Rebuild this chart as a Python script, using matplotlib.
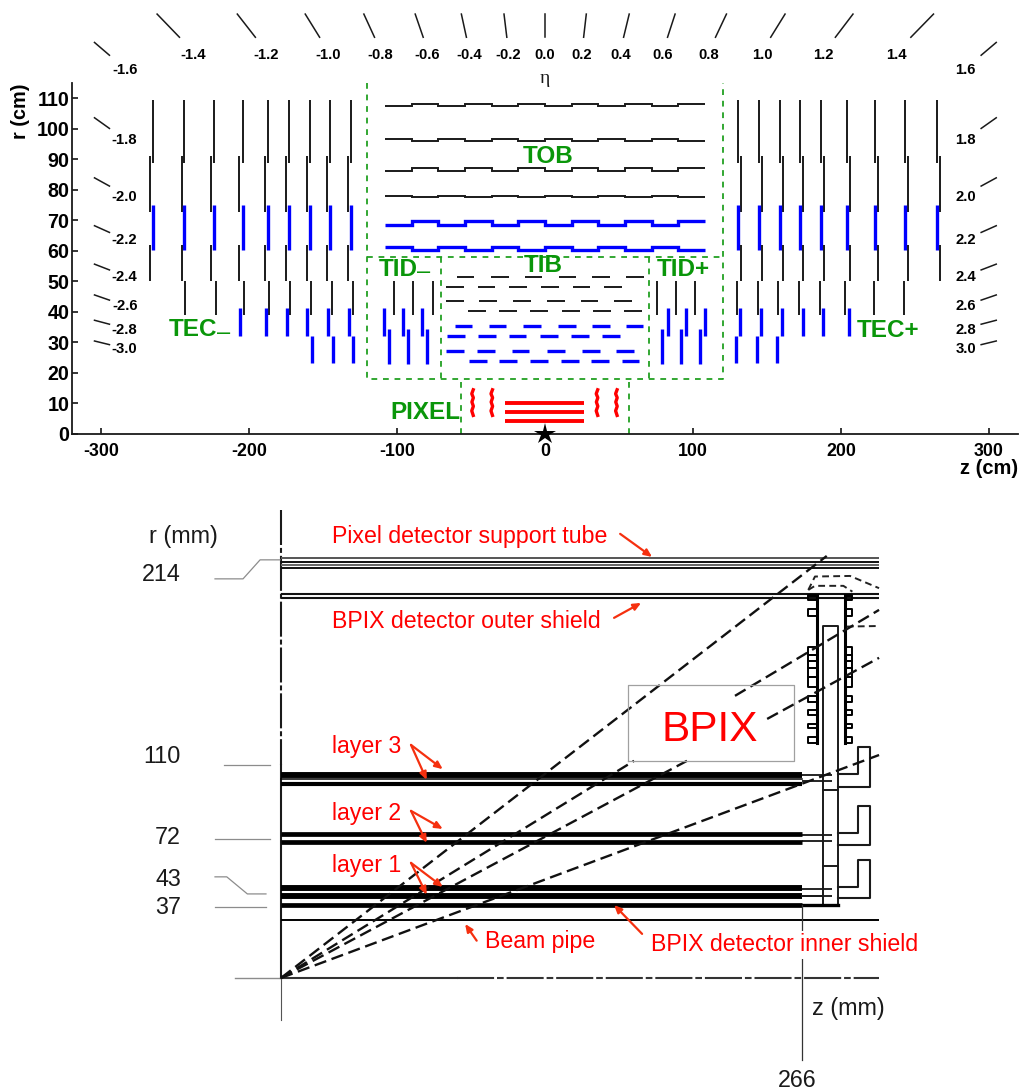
import matplotlib
matplotlib.use("Agg")
import matplotlib.pyplot as plt

plt.rcParams['font.family'] = ['Liberation Sans', 'DejaVu Sans']
plt.rcParams['axes.unicode_minus'] = False

W, H = 1019, 1092
BLACK = '#1a1a1a'
BLUE = '#0000ff'
RED = '#ff0000'
GREEN = '#0a960a'
DGREEN = '#22a022'
ARROW = '#f5300f'
GRAY = '#8c8c8c'
THIN = 1.4    # black tracker modules
THICK = 2.4   # blue tracker modules

# ---------- upper panel: tracker layout, values in cm ----------
XTICKS = [-300, -200, -100, 0, 100, 200, 300]
YTICKS = [0, 10, 20, 30, 40, 50, 60, 70, 80, 90, 100, 110]

# TEC / TID discs: z positions and (r_low, r_high) of each ring
TEC_A = [-265, -244, -223.5, -204.3, -187, -172.7, -159, -145, -131,
         130.7, 144.7, 158.6, 172.6, 186.7, 204, 223, 243.4, 265]
TEC_B = [-267, -245.6, -225.4, -206.5, -189, -175, -161, -147, -133,
         132.5, 146.5, 160.5, 174.5, 188.5, 206, 224.8, 245.5, 266.8]
TEC_C = [-243, -222.5, -203.3, -186.3, -172, -158, -144, -130,
         129.8, 143.8, 157.7, 171.6, 185.6, 203, 222, 242.5]
TEC_D = [-206, -188.5, -174.6, -160.6, -146.7, -132.7,
         132, 146, 160, 174, 188, 205.6]
TEC_E = [-157.5, -143.5, -129.6, 128.9, 143, 157]
TID_A = [-102, -89, -76, 75.6, 88.4, 101.2]
TID_B = [-109, -96, -83.2, 82.8, 95.6, 108.4]
TID_C = [-105.5, -92.5, -79.6, 79.2, 92, 104.8]

# TOB rods: module edges and two alternating radii per layer
TOB_EDGES = [-108, -90, -72, -54, -36, -18, 0, 18, 36, 54, 72, 90, 108]
TOB_L1 = [107.5, 108.2] * 6
TOB_L2 = [96.6, 96.0] * 6
TOB_L3 = [86.3, 87.0] * 6
TOB_L4 = [78.1, 77.5] * 6
TOB_L5 = [68.5, 69.7] * 6
TOB_L6 = [61.2, 60.2] * 6

# TIB modules: (r, module centres)
TIB_R = [51.3, 48.2, 43.4, 40.1, 35.4, 32.1, 27.0, 23.8]
TIB_Z = [[-53.7, -30.6, -7.7, 15.2, 37.9, 60.6],
         [-60.9, -39.5, -18.1, 3.3, 24.6, 46.0],
         [-60.9, -38.3, -15.6, 7.3, 30.0, 52.8],
         [-46.0, -25.1, -4.2, 17.4, 38.3, 59.3],
         [-55.0, -32.1, -8.9, 14.7, 37.9, 60.4],
         [-60.2, -39.3, -18.6, 2.8, 23.8, 44.7],
         [-60.9, -40.0, -16.5, 7.6, 31.0, 54.3],
         [-45.1, -24.8, -4.2, 16.7, 37.3, 57.7]]

PIX_R = [10.2, 7.2, 4.3]
PIX_DISK_Z = [-48.8, -35.8, 35.3, 48.4]
PIX_DISK_R = [14.4, 13.1, 11.8, 10.4, 9.0, 7.5, 6.0]
PIX_DISK_DZ = [0.3, -0.7, 0.4, -0.6, 0.4, -0.7, 0.3]

# eta scale
ETA_TOP = ['-1.4', '-1.2', '-1.0', '-0.8', '-0.6', '-0.4', '-0.2', '0.0',
           '0.2', '0.4', '0.6', '0.8', '1.0', '1.2', '1.4']
ETA_TOP_LABEL_Z = [-237.8, -188.5, -146.7, -111.2, -79.8, -51.5, -25, 0,
                   25, 51.1, 79.2, 110.5, 146.7, 188.3, 237.4]
ETA_TOP_Z_OUT = [-262.1, -207.9, -162, -122.4, -87.7, -56.5, -27.7, 0,
                 27.9, 56.9, 87.9, 122.6, 162.2, 208.1, 262.5]
ETA_TOP_Z_IN = [-247, -195.7, -152.3, -115.2, -82.3, -53.1, -25.8, 0,
                26.1, 53.1, 82.8, 115.2, 152.5, 196.2, 247.2]
ETA_SIDE = ['1.6', '1.8', '2.0', '2.2', '2.4', '2.6', '2.8', '3.0']
ETA_SIDE_LABEL_R = [119.2, 96.2, 77.7, 63.5, 51.3, 41.8, 34.0, 27.7]
ETA_SIDE_R_OUT = [128.3, 103.6, 83.9, 68.2, 55.6, 45.5, 37.2, 30.4]
ETA_SIDE_R_IN = [124.1, 100.1, 81.2, 66.0, 53.7, 43.8, 35.9, 29.2]

# ---------- lower panel: BPIX cross section, values in mm ----------
R_LABELS = ['214', '110', '72', '43', '37']
R_LABEL_Y = [207.7, 113.9, 72.2, 50.5, 36.1]
TUBE_R = [216.2, 214.4, 212.9, 211.3]
SHIELD_R = [197.9, 195.9]
LAYER_R = [104.8, 100.0, 74.2, 70.1, 46.5, 42.3, 37.8]
LAYER_LW = [5.0, 3.5, 4.0, 4.0, 5.0, 5.0, 4.0]
LAYER_MID = 102.4
LAYER_EXT = [104.6, 101.7, 73.7, 70.8, 45.7, 42.4]
Z_END = 266
Z_MAX = 305.1
BEAM_PIPE_R = 29.7

LEADERS = [([-33.7, -19.4, -10.7, -0.5], [205.7, 205.7, 215.5, 215.5]),
           ([-29.1, -5.6], [109.8, 109.8]),
           ([-33.7, -5.6], [71.8, 71.8]),
           ([-33.7, -27.7, -17.2, -7.7], [52.1, 52.1, 43.3, 43.3]),
           ([-33.7, -7.7], [36.6, 36.6])]

# service L shapes: r of lower leg, r of upper end, r of top
SERVICE_Z = [284.3, 294.2, 294.2, 300.5, 300.5, 284.3]
SERVICE_R = [[105.0, 105.0, 118.9, 118.9, 98.6, 98.6],
             [74.6, 74.6, 88.7, 88.7, 68.6, 68.6],
             [47.1, 47.1, 60.8, 60.8, 41.1, 41.1]]

# comb structure on both disc supports: r ranges of the teeth
COMB_R = [(194.8, 197.4), (186.6, 190.2), (166.5, 170.8), (163.6, 166.5),
          (159.6, 163.6), (155.3, 159.6), (150.2, 155.3), (142.4, 145.5),
          (135.6, 138.1), (128.7, 130.8), (121.0, 124.4)]

# dashed eta lines, (z, r) of each visible piece
DASH_LINES = [([0, 278.4], [0, 217.5]),
              ([0, 180.1], [0, 111.9]), ([231.6, 305.1], [145.4, 189.7]),
              ([0, 207.1], [0, 111.9]), ([248, 305.1], [133.5, 165.0]),
              ([0, 305.1], [0, 114.9])]

RED_LABELS = ['Pixel detector support tube', 'BPIX detector outer shield',
              'layer 3', 'layer 2', 'layer 1']
RED_LABEL_R = [227.3, 183.5, 119.1, 85.0, 58.2]
ARROWS = [((173, 228.9), (189.3, 217)), ((169.9, 185.6), (183.7, 193.3)),
          ((66.3, 120.1), (82.5, 107.6)), ((66.3, 120.1), (74.3, 102.1)),
          ((66.3, 86.1), (82.5, 76.8)), ((66.3, 86.1), (74.3, 69.6)),
          ((66.3, 59.3), (82.5, 46.9)), ((66.3, 59.3), (74.3, 42.9)),
          ((99.8, 19.2), (93.9, 27.8)), ((184.2, 22.7), (169.9, 37.6))]

fig = plt.figure(figsize=(W / 100, H / 100), dpi=100, facecolor='white')


def box(x0, y0, x1, y1):
    # pixel box of the picture -> figure fraction
    return [x0 / W, 1 - y1 / H, (x1 - x0) / W, (y1 - y0) / H]


# ============================================================
# Upper panel
# ============================================================
ax = fig.add_axes(box(72, 83, 1018, 433.7))
ax.set_xlim(-319.6, 319.6)
ax.set_ylim(0, 115)
for s in ('top', 'right'):
    ax.spines[s].set_visible(False)
for s in ('left', 'bottom'):
    ax.spines[s].set_linewidth(1.3)
    ax.spines[s].set_color(BLACK)
ax.set_xticks(XTICKS)
ax.set_yticks(YTICKS)
ax.tick_params(axis='x', direction='in', length=4.5, width=1.1, labelsize=12.8, pad=7)
ax.tick_params(axis='y', direction='in', length=4.5, width=1.1, labelsize=14.2, pad=2)
for t in ax.get_xticklabels() + ax.get_yticklabels():
    t.set_fontweight('bold')

def discs(zs, r0, r1, color, lw):
    ax.vlines(zs, r0, r1, colors=color, lw=lw, clip_on=False)

discs(TEC_A, 88.7, 109.4, BLACK, THIN)
discs(TEC_B, 72.6, 91, BLACK, THIN)
discs(TEC_A, 60.2, 75, BLUE, THICK)
discs(TEC_B, 50.2, 61.9, BLACK, THIN)
discs(TEC_C, 39, 50.2, BLACK, THIN)
discs(TEC_D, 32, 41.2, BLUE, THICK)
discs(TEC_E, 23.3, 32, BLUE, THICK)
discs(TID_A, 39, 50.2, BLACK, THIN)
discs(TID_B, 32, 41.2, BLUE, THICK)
discs(TID_C, 23, 34.2, BLUE, THICK)

for lev, col, lw in [(TOB_L1, BLACK, THIN), (TOB_L2, BLACK, THIN), (TOB_L3, BLACK, THIN),
                     (TOB_L4, BLACK, THIN), (TOB_L5, BLUE, THICK), (TOB_L6, BLUE, THICK)]:
    ax.stairs(lev, TOB_EDGES, color=col, lw=lw, baseline=None)

for i, (r, zs) in enumerate(zip(TIB_R, TIB_Z)):
    col, lw = (BLACK, THIN) if i < 4 else (BLUE, THICK)
    ax.hlines([r] * len(zs), [z - 6 for z in zs], [z + 6 for z in zs], colors=col, lw=lw)

ax.hlines(PIX_R, -27, 26.5, colors=RED, lw=2.8)
for z in PIX_DISK_Z:
    ax.plot([z + d for d in PIX_DISK_DZ], PIX_DISK_R, color=RED, lw=2.4)

ax.plot(0, 0, marker='*', color='black', ms=16, mew=0, clip_on=False, zorder=6)

# green dashed frames
gkw = dict(color=DGREEN, lw=1.3, dashes=(3.2, 3.2), clip_on=False)
ax.plot([-120, -120, 120, 120], [115, 18, 18, 115], **gkw)
ax.plot([-120, 120], [58, 58], **gkw)
ax.plot([-70, -70], [58, 18], **gkw)
ax.plot([70, 70], [58, 18], **gkw)
ax.plot([-57, -57], [17, 0], **gkw)
ax.plot([57, 57], [17, 0], **gkw)

gt = dict(color=GREEN, fontsize=17.5, fontweight='bold', va='center', clip_on=False)
ax.text(2, 91, 'TOB', ha='center', **gt)
ax.text(-1.4, 55, 'TIB', ha='center', **gt)
ax.text(-254, 34.3, 'TEC', ha='left', **gt)
ax.text(210.6, 34, 'TEC+', ha='left', **gt)
ax.text(-112.2, 54, 'TID', ha='left', **gt)
ax.text(75.5, 54, 'TID+', ha='left', **gt)
ax.text(-57.4, 7, 'PIXEL', ha='right', **gt)
ax.text(-216.9, 33.1, '\u2013', ha='center', va='center', color=GREEN, fontsize=17)
ax.text(-81.8, 53.1, '\u2013', ha='center', va='center', color=GREEN, fontsize=17)

# eta scale around the frame
for lab, zl, z0, z1 in zip(ETA_TOP, ETA_TOP_LABEL_Z, ETA_TOP_Z_OUT, ETA_TOP_Z_IN):
    ax.plot([z0, z1], [137.6, 130], color=BLACK, lw=1.1, clip_on=False)
    ax.text(zl, 124.1, lab, ha='center', va='center', fontsize=10.7, fontweight='bold')
for lab, rl, r0, r1 in zip(ETA_SIDE, ETA_SIDE_LABEL_R, ETA_SIDE_R_OUT, ETA_SIDE_R_IN):
    ax.plot([-304.4, -294.3], [r0, r1], color=BLACK, lw=1.1, clip_on=False)
    ax.plot([304.9, 294.7], [r0, r1], color=BLACK, lw=1.1, clip_on=False)
    ax.text(-275.4, rl, '-' + lab, ha='right', va='center', fontsize=10.7, fontweight='bold')
    ax.text(277.4, rl, lab, ha='left', va='center', fontsize=10.7, fontweight='bold')
ax.text(0, 116.6, '\u03b7', ha='center', va='center', fontsize=14,
        family='Liberation Serif', color=BLACK)

fig.text(20 / W, 1 - 111 / H, 'r (cm)', rotation=90, ha='center', va='center',
         fontsize=14.3, fontweight='bold')
fig.text(1018 / W, 1 - 468 / H, 'z (cm)', ha='right', va='center',
         fontsize=14.5, fontweight='bold')

# ============================================================
# Lower panel
# ============================================================
bx = fig.add_axes(box(0, 490, W, H))
bx.set_xlim(-143.4, 376.5)
bx.set_ylim(-58.8, 251.5)
bx.axis('off')

# frame of the vertical and horizontal axis
bx.plot([0, 0], [241.2, 110], color=BLACK, lw=1.5, dashes=(16.8, 1.4, 2.4, 1.4))
bx.plot([0, 0], [110, 0], color=BLACK, lw=1.5)
bx.plot([0, 0], [-21.6, 0], color='#555555', lw=0.8)
bx.plot([-23.5, 0], [0, 0], color=GRAY, lw=1.0)
bx.plot([0, 90], [0, 0], color='#333333', lw=1.5)
bx.plot([90, Z_MAX], [0, 0], color='#333333', lw=1.5, dashes=(17.8, 1.4, 3.2, 1.4))

for xs, ys in LEADERS:
    bx.plot(xs, ys, color=GRAY, lw=0.9)

bx.hlines(TUBE_R, 0, Z_MAX, colors=['#555555', '#111111', '#666666', '#111111'], lw=1.4)
bx.hlines(SHIELD_R, 0, Z_MAX, colors='#111111', lw=1.5)
bx.hlines(BEAM_PIPE_R, 0, Z_MAX, colors='black', lw=1.4)

for r, lw in zip(LAYER_R, LAYER_LW):
    bx.plot([0, Z_END], [r, r], color='black', lw=lw * 0.85, solid_capstyle='butt')
bx.plot([0, Z_END], [LAYER_MID, LAYER_MID], color='black', lw=1.1)
bx.hlines(LAYER_EXT, Z_END, 281, colors='black', lw=1.2)

# support structure at the end of the barrel
skw = dict(color=BLACK, lw=1.4)
bx.plot([276.7, 276.7, 284.3, 284.3, 276.7], [37.6, 181.4, 181.4, 37.6, 37.6], **skw)
bx.plot([276.7, 284.3], [96.9, 96.9], **skw)
bx.plot([276.7, 284.3], [57.7, 57.7], **skw)
bx.plot([Z_END, 284.3], [37.6, 37.6], color='black', lw=2.4)
bx.plot([Z_END, Z_END], [37.6, -42.3], color='#333333', lw=0.9)
bx.plot([Z_END, 276.7], [42.4, 42.4], **skw)
for rs in SERVICE_R:
    bx.plot(SERVICE_Z, rs, color=BLACK, lw=1.5)

for zc, zt in [(273.3, 269.0), (287.8, 291.4)]:
    bx.plot([zc, zc], [121.0, 197.4], color='black', lw=2.2)
    for r0, r1 in COMB_R:
        bx.plot([zc, zt, zt, zc], [r0, r0, r1, r1], color='black', lw=1.4)
    bx.fill_between([zc, zt], 194.8, 197.4, color='black', lw=0)

# dashed dome at the top of the supports
dkw = dict(color='#222222', lw=1.4, dashes=(3.5, 2.2))
bx.plot([269, 272.4, 290.3, 297.1, 305.1], [200, 206.9, 207.2, 204.3, 200.9], **dkw)
bx.plot([269, 272.4, 286.9, 291.5], [200, 202.1, 202.1, 199.1], **dkw)
bx.plot([288.6, 305.1], [181.1, 181.4], **dkw)

for xs, ys in DASH_LINES:
    bx.plot(xs, ys, color='#111111', lw=1.7, dashes=(5.2, 2.4))

# BPIX label with its frame
bx.plot([177, 261.7, 261.7, 177, 177], [111.9, 111.9, 151, 151, 111.9], color='#a0a0a0', lw=0.9)
bx.text(218.9, 127.8, 'BPIX', color=RED, fontsize=30.5, ha='center', va='center')

# text
bx.text(-67.3, 227.3, 'r (mm)', fontsize=16.8, color=BLACK, ha='left', va='center')
for lab, r in zip(R_LABELS, R_LABEL_Y):
    bx.text(-51, r, lab, fontsize=16.8, color=BLACK, ha='right', va='center')
bx.text(270.9, -16, 'z (mm)', fontsize=16.8, color=BLACK, ha='left', va='center')
bx.text(263.3, -53.1, '266', fontsize=16.8, color=BLACK, ha='center', va='center')

for lab, r in zip(RED_LABELS, RED_LABEL_R):
    bx.text(26, r, lab, fontsize=16.7, color=RED, ha='left', va='center')
bx.text(104.1, 18.6, 'Beam pipe', fontsize=16.7, color=RED, ha='left', va='center')
bx.text(188.8, 17, 'BPIX detector inner shield', fontsize=16.7, color=RED, ha='left', va='center',
        bbox=dict(facecolor='white', edgecolor='none', pad=1.5), zorder=5)

for start, end in ARROWS:
    bx.annotate('', xy=end, xytext=start,
                arrowprops=dict(arrowstyle='-|>,head_length=0.45,head_width=0.2',
                                color=ARROW, lw=1.6, shrinkA=0, shrinkB=0))

fig.savefig('out.png', dpi=100)
